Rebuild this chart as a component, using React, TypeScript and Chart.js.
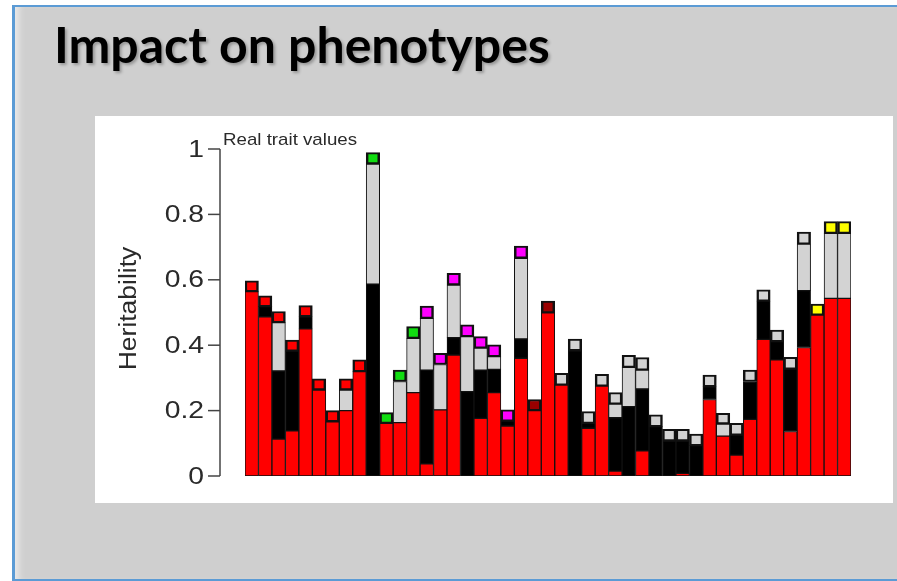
import React, { useEffect, useRef } from "react";
import { Chart, registerables } from "chart.js";

Chart.register(...registerables);

// Heritability components for each trait (stacked from the bottom)
const redPart = [
  0.564, 0.487, 0.113, 0.138, 0.45, 0.263, 0.166, 0.2, 0.319, 0,
  0.161, 0.163, 0.255, 0.037, 0.202, 0.37, 0, 0.176, 0.255, 0.153,
  0.36, 0.2, 0.499, 0.278, 0, 0.146, 0.275, 0.015, 0, 0.077,
  0, 0, 0.008, 0, 0.234, 0.122, 0.064, 0.173, 0.418, 0.355,
  0.136, 0.393, 0.492, 0.543, 0.543,
];
const blackPart = [
  0, 0.031, 0.208, 0.244, 0.037, 0, 0, 0, 0, 0.587,
  0, 0, 0, 0.287, 0, 0.053, 0.258, 0.148, 0.071, 0.015,
  0.059, 0, 0, 0, 0.383, 0.015, 0, 0.163, 0.212, 0.189,
  0.151, 0.107, 0.099, 0.093, 0.039, 0, 0.061, 0.116, 0.117, 0.056,
  0.191, 0.174, 0, 0, 0,
];
const grayPart = [
  0, 0, 0.148, 0, 0, 0, 0, 0.063, 0, 0.367,
  0, 0.126, 0.166, 0.158, 0.139, 0.161, 0.168, 0.067, 0.039, 0,
  0.247, 0, 0, 0, 0, 0, 0, 0.042, 0.12, 0.058,
  0, 0, 0, 0, 0, 0.037, 0, 0, 0, 0,
  0, 0.142, 0, 0.199, 0.199,
];
// Total height of each bar, including the marker square on top
const barTotal = [
  0.597, 0.551, 0.503, 0.416, 0.521, 0.297, 0.2, 0.297, 0.355, 0.989,
  0.194, 0.324, 0.457, 0.52, 0.375, 0.62, 0.462, 0.426, 0.401, 0.202,
  0.703, 0.234, 0.535, 0.314, 0.419, 0.197, 0.311, 0.255, 0.369, 0.362,
  0.187, 0.143, 0.143, 0.128, 0.309, 0.192, 0.161, 0.324, 0.569, 0.446,
  0.363, 0.746, 0.526, 0.778, 0.778,
];
// Marker class per trait: r red, g green, m magenta, d dark red, s silver, y yellow
const markerClass = [
  "r", "r", "r", "r", "r", "r", "r", "r", "r", "g",
  "g", "g", "g", "m", "m", "m", "m", "m", "m", "m",
  "m", "d", "d", "s", "s", "s", "s", "s", "s", "s",
  "s", "s", "s", "s", "s", "s", "s", "s", "s", "s",
  "s", "s", "y", "y", "y",
];

const yTickValues = [0, 0.2, 0.4, 0.6, 0.8, 1];
const yTickLabels = ["0", "0.2", "0.4", "0.6", "0.8", "1"];

const markerColors: Record<string, string> = {
  r: "#ff0000",
  g: "#11dd11",
  m: "#ff00ff",
  d: "#990000",
  s: "#d3d3d3",
  y: "#ffff00",
};

const traitLabels = redPart.map((_, i) => `Trait ${i + 1}`);

const PANEL_W = 798;
const PANEL_H = 387;
const AXIS_FONT = "'Liberation Sans', Arial, sans-serif";

// draws text widened along its baseline
function wideText(ctx: CanvasRenderingContext2D, text: string, x: number, y: number, sx: number) {
  ctx.save();
  ctx.translate(x, y);
  ctx.scale(sx, 1);
  ctx.fillText(text, 0, 0);
  ctx.restore();
}

// R-style left axis, detached from the bars
const rAxisPlugin = {
  id: "rAxis",
  afterDraw(chart: any) {
    const { ctx, chartArea, scales } = chart;
    const y = scales.y;
    const axisX = chartArea.left - 25;
    ctx.save();
    ctx.strokeStyle = "#444";
    ctx.lineWidth = 1.5;
    ctx.beginPath();
    ctx.moveTo(axisX, y.getPixelForValue(0));
    ctx.lineTo(axisX, y.getPixelForValue(1));
    ctx.stroke();
    ctx.fillStyle = "#2a2a2a";
    ctx.font = `24px ${AXIS_FONT}`;
    ctx.textAlign = "right";
    ctx.textBaseline = "middle";
    yTickValues.forEach((v, i) => {
      const py = y.getPixelForValue(v);
      ctx.beginPath();
      ctx.moveTo(axisX - 12, py);
      ctx.lineTo(axisX, py);
      ctx.stroke();
      wideText(ctx, yTickLabels[i], axisX - 16, py + 1, 1.18);
    });
    // axis title
    ctx.save();
    ctx.translate(35, (y.getPixelForValue(0) + y.getPixelForValue(1)) / 2 - 4);
    ctx.rotate(-Math.PI / 2);
    ctx.textAlign = "center";
    ctx.textBaseline = "middle";
    ctx.font = `23px ${AXIS_FONT}`;
    wideText(ctx, "Heritability", 0, 0, 1.15);
    ctx.restore();
    // panel caption
    ctx.font = `17px ${AXIS_FONT}`;
    ctx.textAlign = "left";
    ctx.textBaseline = "alphabetic";
    wideText(ctx, "Real trait values", axisX + 3, y.getPixelForValue(1) - 4, 1.1);
    ctx.restore();
  },
};

function HeritabilityChart() {
  const canvasRef = useRef<HTMLCanvasElement | null>(null);

  useEffect(() => {
    if (!canvasRef.current) return;
    const markerPart = barTotal.map(
      (t, i) => +(t - redPart[i] - blackPart[i] - grayPart[i]).toFixed(3)
    );
    const common = {
      borderColor: "#111",
      borderWidth: 1,
      borderSkipped: false,
      categoryPercentage: 1,
      barPercentage: 1,
    };
    const chart = new Chart(canvasRef.current, {
      type: "bar",
      data: {
        labels: traitLabels,
        datasets: [
          { label: "red", data: redPart, backgroundColor: "#ff0000", ...common },
          { label: "black", data: blackPart, backgroundColor: "#000000", ...common },
          { label: "gray", data: grayPart, backgroundColor: "#d3d3d3", ...common },
          {
            label: "marker",
            data: markerPart,
            backgroundColor: markerClass.map((c) => markerColors[c]),
            ...common,
            borderColor: "#111",
            borderWidth: { left: 2.5, right: 2.5, top: 2, bottom: 2 },
          },
        ],
      },
      options: {
        animation: false,
        responsive: false,
        devicePixelRatio: 1,
        layout: { padding: { left: 150, right: 42, top: 33, bottom: 27 } },
        scales: {
          x: { stacked: true, display: false, offset: true },
          y: { stacked: true, display: false, min: 0, max: 1 },
        },
        plugins: { legend: { display: false }, tooltip: { enabled: false } },
      } as any,
      plugins: [rAxisPlugin],
    });
    return () => chart.destroy();
  }, []);

  return <canvas ref={canvasRef} width={PANEL_W} height={PANEL_H} />;
}

export default function App() {
  return (
    <div
      style={{
        position: "fixed",
        left: 0,
        top: 0,
        width: 897,
        height: 581,
        background: "#ffffff",
        overflow: "hidden",
      }}
    >
      <div
        style={{
          position: "absolute",
          left: 12,
          top: 5,
          width: 900,
          height: 572,
          background: "#cfcfcf",
          borderTop: "2px solid #5b9bd5",
          borderLeft: "3px solid #5b9bd5",
          borderBottom: "2px solid #5b9bd5",
          boxShadow: "inset 8px 0 6px -4px rgba(255,255,255,0.55)",
        }}
      />
      <div
        style={{
          position: "absolute",
          left: 54,
          top: 14,
          fontFamily: "Lato, 'Open Sans', sans-serif",
          fontWeight: 700,
          fontSize: 50,
          color: "#000",
          textShadow: "2px 2px 3px rgba(0,0,0,0.28)",
          whiteSpace: "nowrap",
        }}
      >
        Impact on phenotypes
      </div>
      <div
        style={{
          position: "absolute",
          left: 95,
          top: 116,
          width: PANEL_W,
          height: PANEL_H,
          background: "#ffffff",
        }}
      >
        <HeritabilityChart />
      </div>
    </div>
  );
}
